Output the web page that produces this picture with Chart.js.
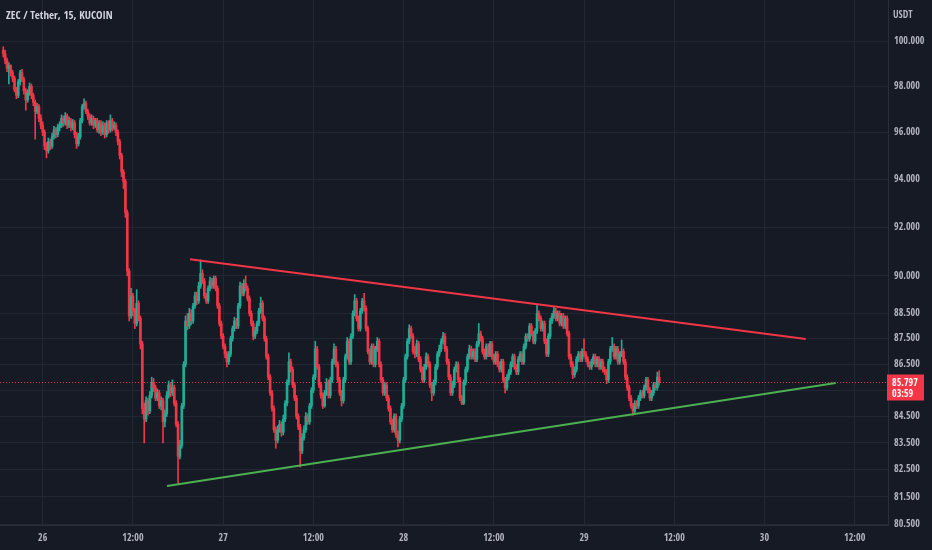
<!DOCTYPE html>
<html>
<head>
<meta charset="utf-8">
<title>ZEC / Tether, 15, KUCOIN</title>
<script src="https://cdn.jsdelivr.net/npm/chart.js@4.4.0/dist/chart.umd.min.js"></script>
<style>
  html, body { margin: 0; padding: 0; background: #161a25; }
  #wrap { position: relative; width: 932px; height: 550px; }
  #title { position: absolute; left: 6px; top: 7px; color: #d1d4dc; font-size: 11px; }
  #unit { position: absolute; left: 893px; top: 7px; color: #b2b5be; font-size: 10px; }
</style>
</head>
<body>
<div id="wrap">
  <canvas id="chart"></canvas>
  <div id="title">ZEC / Tether, 15, KUCOIN</div>
  <div id="unit">USDT</div>
</div>
<script>
// 15 minute candles, hours counted from 26 00:00
const startHour = -5.25;
const firstOpen = 99.60;

const closes = [
  99.45,99.15,98.80,98.90,98.60,98.35,97.85,97.60,98.20,98.60,
  98.30,97.80,97.40,97.70,98.00,97.60,97.30,96.90,97.10,96.60,
  96.30,96.00,95.40,95.20,95.60,95.40,95.80,96.10,95.90,96.20,
  96.30,96.60,96.40,96.70,96.30,96.50,96.20,96.40,95.90,95.50,
  95.80,96.50,97.10,97.25,96.90,96.70,96.40,96.60,96.30,96.50,
  96.10,96.40,96.00,96.30,95.90,96.40,96.10,96.50,96.20,96.30,
  96.00,95.60,95.00,94.30,93.90,92.60,90.20,88.40,89.20,88.60,
  88.10,88.90,88.30,87.30,84.80,84.40,85.10,84.70,85.30,85.80,
  85.60,85.20,85.40,84.90,85.10,84.30,84.60,85.30,85.70,85.40,
  85.60,85.00,84.20,83.00,83.40,84.90,86.50,88.20,88.00,88.50,
  88.20,88.80,89.20,89.00,89.60,90.10,89.80,89.20,89.00,89.50,
  89.80,89.60,89.90,89.50,88.80,88.10,87.60,87.20,86.90,86.60,
  86.90,87.50,87.90,88.20,88.00,88.80,89.60,89.30,89.70,89.50,
  89.10,88.50,88.10,87.60,87.80,88.10,88.60,88.90,88.30,87.50,
  86.80,86.00,85.40,84.80,84.00,83.60,84.00,84.20,83.90,84.40,
  85.00,85.80,86.60,86.30,85.70,85.20,84.50,84.10,83.20,83.70,
  84.00,84.50,84.30,84.90,85.50,86.00,87.10,86.40,85.70,85.30,
  84.90,85.40,85.80,85.30,85.90,86.60,87.10,86.50,85.90,85.40,
  85.10,85.90,86.80,87.40,86.60,87.60,88.50,89.00,88.30,87.90,
  88.60,89.00,88.70,87.90,87.00,86.60,87.20,86.50,87.10,87.40,
  86.50,85.90,85.40,85.70,85.20,84.80,84.30,84.00,84.50,83.80,
  83.60,84.40,84.90,85.90,86.80,87.40,87.90,87.60,87.00,86.90,
  87.30,86.70,86.30,85.90,86.40,86.80,86.50,85.70,85.40,85.80,
  86.40,86.90,87.10,87.40,87.60,87.10,86.60,86.00,85.40,85.70,
  86.30,86.50,85.90,85.20,85.00,85.80,86.30,86.80,87.10,86.80,
  87.00,86.70,87.30,87.70,87.50,87.00,86.80,87.20,86.90,87.30,
  86.80,86.60,86.90,86.50,86.30,86.60,85.90,85.60,86.00,86.20,
  86.50,86.80,86.40,86.20,86.70,86.90,86.60,87.20,87.60,87.50,
  88.00,87.70,87.40,87.80,88.50,88.30,87.90,88.10,87.40,86.90,
  87.60,88.20,88.40,88.60,88.30,88.50,88.10,88.40,88.00,88.30,
  87.70,86.80,86.50,86.10,86.30,86.70,86.90,86.70,87.00,86.90,
  86.70,86.50,86.40,86.60,86.80,86.50,86.70,86.40,86.60,86.30,
  86.20,85.90,86.60,87.10,87.20,86.80,87.10,86.60,86.90,87.00,
  86.60,86.00,85.60,85.20,84.90,84.70,85.00,84.90,85.20,85.40,
  85.30,85.60,85.90,85.50,85.20,85.40,85.70,85.60,86.00,85.797
];

const highs = [
  99.75,99.60,99.25,99.05,98.95,98.70,98.45,97.95,98.30,98.70,
  98.75,98.40,97.90,97.85,98.15,98.10,97.70,97.40,97.25,97.20,
  96.75,96.45,96.10,95.55,95.75,95.70,95.95,96.25,96.20,96.35,
  96.45,96.75,96.70,96.85,96.80,96.65,96.60,96.55,96.50,96.00,
  95.95,96.60,97.20,97.45,97.35,97.00,96.80,96.75,96.70,96.60,
  96.60,96.50,96.50,96.45,96.40,96.50,96.50,96.75,96.60,96.45,
  96.40,96.10,95.70,95.10,94.40,94.00,92.70,90.30,89.50,89.30,
  88.70,89.45,89.00,88.40,87.40,85.00,85.25,85.20,85.45,86.00,
  85.95,85.70,85.55,85.50,85.25,85.20,84.75,85.45,85.85,85.80,
  85.90,85.70,85.10,84.30,83.60,85.00,86.60,88.40,88.50,88.70,
  88.65,88.90,89.35,89.35,89.75,90.65,90.25,89.90,89.30,89.60,
  89.95,89.90,90.00,90.00,89.60,88.90,88.20,87.70,87.30,87.00,
  87.00,87.60,88.00,88.35,88.30,88.90,89.75,89.70,89.85,90.00,
  89.60,89.20,88.60,88.20,87.95,88.20,88.70,89.15,89.00,88.40,
  87.60,86.90,86.10,85.50,84.90,84.10,84.15,84.35,84.30,84.55,
  85.10,85.90,86.95,86.70,86.40,85.80,85.30,84.60,84.20,83.85,
  84.15,84.65,84.60,85.00,85.60,86.10,87.40,87.20,86.50,85.80,
  85.40,85.50,85.95,85.90,86.00,86.70,87.30,87.20,86.60,86.00,
  85.50,86.00,86.90,87.55,87.50,87.70,88.60,89.25,89.10,88.40,
  88.70,89.10,89.30,88.80,88.00,87.10,87.30,87.30,87.20,87.55,
  87.50,86.60,86.00,85.80,85.80,85.30,84.90,84.40,84.60,84.60,
  83.95,84.50,85.00,86.00,86.90,87.50,88.05,88.00,87.70,87.20,
  87.45,87.40,86.80,86.40,86.50,86.95,86.90,86.60,85.80,85.90,
  86.50,87.00,87.25,87.50,87.75,87.70,87.20,86.70,86.10,85.85,
  86.40,86.60,86.60,86.00,85.30,85.90,86.40,86.90,87.25,87.20,
  87.10,87.10,87.40,88.10,87.80,87.60,87.10,87.30,87.30,87.40,
  87.40,86.90,87.00,87.00,86.60,86.70,86.70,86.00,86.10,86.30,
  86.60,86.90,86.90,86.50,86.80,87.00,87.00,87.30,87.70,87.70,
  88.10,88.10,87.80,87.90,88.85,88.60,88.40,88.20,88.20,87.50,
  87.70,88.30,88.50,88.75,88.70,88.60,88.60,88.50,88.50,88.40,
  88.40,87.80,86.90,86.60,86.40,86.80,87.00,87.00,87.10,87.50,
  87.00,86.80,86.60,86.70,86.90,86.90,86.80,86.80,86.70,86.70,
  86.40,86.30,86.70,87.20,87.55,87.30,87.20,87.20,87.00,87.45,
  87.10,86.70,86.10,85.70,85.30,85.00,85.10,85.10,85.30,85.50,
  85.50,85.70,86.00,86.00,85.60,85.50,85.80,85.80,86.20,86.25
];

const lows = [
  99.30,99.00,98.65,98.10,98.45,98.20,97.75,97.45,97.50,98.05,
  98.20,97.65,96.95,97.30,97.60,97.45,97.15,95.70,96.80,96.45,
  96.15,95.85,95.25,94.90,95.10,95.25,95.30,95.70,95.75,95.80,
  96.05,96.20,96.25,96.30,96.15,96.20,96.05,96.10,95.75,95.30,
  95.40,95.70,96.40,97.00,96.80,96.55,96.30,96.30,96.15,96.20,
  96.00,95.95,95.85,95.90,95.75,95.80,95.95,96.00,96.05,96.10,
  95.85,95.45,94.85,94.10,93.60,92.40,90.00,88.20,88.30,88.40,
  87.90,88.00,88.20,87.10,84.60,83.50,84.30,84.55,84.60,85.20,
  85.45,85.10,85.10,84.80,84.75,83.50,84.10,84.50,85.20,85.25,
  85.30,84.90,84.10,82.00,82.90,83.30,84.80,86.40,87.85,87.90,
  88.05,88.10,88.70,88.85,88.90,89.50,89.70,89.10,88.90,88.90,
  89.40,89.50,89.50,89.40,88.70,88.00,87.50,87.10,86.75,86.40,
  86.50,86.80,87.40,87.80,87.90,87.90,88.70,89.20,89.20,89.40,
  89.00,88.40,88.00,87.45,87.50,87.70,88.00,88.50,88.20,87.40,
  86.70,85.90,85.30,84.70,83.90,83.30,83.50,83.90,83.75,83.80,
  84.30,84.90,85.70,86.20,85.60,85.10,84.40,84.00,82.60,83.10,
  83.60,83.90,84.20,84.20,84.80,85.40,85.90,86.30,85.60,85.20,
  84.80,84.85,85.30,85.20,85.20,85.80,86.50,86.40,85.80,85.30,
  84.90,85.00,85.80,86.70,86.50,86.50,87.50,88.40,88.20,87.80,
  87.80,88.50,88.60,87.80,86.90,86.50,86.50,86.40,86.40,87.00,
  86.40,85.80,85.30,85.30,85.10,84.70,84.20,83.90,83.90,83.70,
  83.35,83.50,84.30,84.80,85.80,86.70,87.30,87.50,86.90,86.75,
  86.80,86.60,86.20,85.80,85.80,86.30,86.40,85.60,85.10,85.30,
  85.70,86.30,86.80,87.00,87.30,87.00,86.50,85.90,85.30,85.30,
  85.60,86.20,85.80,85.10,84.95,84.95,85.70,86.20,86.70,86.70,
  86.70,86.60,86.60,87.20,87.40,86.90,86.70,86.70,86.80,86.80,
  86.70,86.50,86.50,86.40,86.20,86.20,85.80,85.40,85.50,85.90,
  86.10,86.40,86.30,86.10,86.10,86.60,86.50,86.50,87.10,87.40,
  87.40,87.60,87.30,87.30,87.70,88.20,87.80,87.80,87.30,86.80,
  86.80,87.50,88.10,88.30,88.20,88.20,88.00,88.00,87.90,87.90,
  87.60,86.70,86.40,85.95,86.00,86.20,86.60,86.60,86.60,86.80,
  86.60,86.40,86.30,86.30,86.50,86.40,86.40,86.30,86.30,86.20,
  86.10,85.75,85.80,86.50,87.00,86.70,86.70,86.50,86.50,86.80,
  86.50,85.90,85.50,85.10,84.80,84.55,84.60,84.80,84.80,85.10,
  85.20,85.20,85.50,85.40,85.10,85.10,85.30,85.50,85.50,85.70
];

// drawn trend lines: [hour, price] end points
const resistanceLine = [[19.59, 90.68], [101.49, 87.49]];
const supportLine = [[16.53, 81.90], [105.48, 85.78]];

// axes
const xTickHours = [0, 12, 24, 36, 48, 60, 72, 84, 96, 108];
const xTickLabels = ['26', '12:00', '27', '12:00', '28', '12:00', '29', '12:00', '30', '12:00'];
const yTicks = [100, 98, 96, 94, 92, 90, 88.5, 87.5, 86.5, 85.5, 84.5, 83.5, 82.5, 81.5, 80.5];
const countdown = '03:59';

const X_MIN = -5.68, X_MAX = 112.43;
const Y_MIN = 80.48, Y_MAX = 101.87;

const UP = '#22ab94';
const DOWN = '#f23645';
const GRID = '#232735';
const AXIS_TEXT = '#b2b5be';

// pick the narrowest installed face, the reference labels are condensed
function pickFont(candidates) {
    const ctx = document.createElement('canvas').getContext('2d');
    let best = candidates[candidates.length - 1];
    let bestWidth = Infinity;
    candidates.forEach(f => {
        ctx.font = '10px ' + f + ', sans-serif';
        const w = ctx.measureText('100.000 ZEC / Tether').width;
        if (w < bestWidth - 0.5) { bestWidth = w; best = f; }
    });
    return best + ', sans-serif';
}
const FONT = pickFont([
    "'Liberation Sans'", "'Liberation Sans Narrow'", "'DejaVu Sans Condensed'",
    "'Roboto Condensed'", "'Open Sans Condensed'", "Roboto", "'Noto Sans'", "Lato", "Inter"
]);
document.getElementById('title').style.fontFamily = FONT;
document.getElementById('unit').style.fontFamily = FONT;

const opens = closes.map((c, i) => i === 0 ? firstOpen : closes[i - 1]);
const hours = closes.map((c, i) => startHour + i * 0.25);
const lastPrice = closes[closes.length - 1];

const candleColor = ctx => closes[ctx.dataIndex] >= opens[ctx.dataIndex] ? UP : DOWN;

const priceTag = {
    id: 'priceTag',
    afterDraw(chart) {
        const ctx = chart.ctx;
        const y = chart.scales.y;
        const py = y.getPixelForValue(lastPrice);
        ctx.save();
        ctx.fillStyle = DOWN;
        ctx.fillRect(y.left - 1, py - 8, 37, 26);
        ctx.fillStyle = '#ffffff';
        ctx.font = '10px ' + FONT;
        ctx.textBaseline = 'middle';
        ctx.textAlign = 'left';
        ctx.fillText(lastPrice.toFixed(3), y.left + 4, py + 0.5);
        ctx.fillText(countdown, y.left + 4, py + 12);
        ctx.restore();
    }
};

new Chart(document.getElementById('chart'), {
    type: 'bar',
    data: {
        datasets: [
            {
                type: 'line',
                data: resistanceLine.map(p => ({x: p[0], y: p[1]})),
                borderColor: '#f23645',
                borderWidth: 2,
                pointRadius: 0,
                order: 0
            },
            {
                type: 'line',
                data: supportLine.map(p => ({x: p[0], y: p[1]})),
                borderColor: '#4caf50',
                borderWidth: 2,
                pointRadius: 0,
                order: 0
            },
            {
                data: hours.map((h, i) => ({x: h, y: [opens[i], closes[i]]})),
                backgroundColor: candleColor,
                barThickness: 2,
                minBarLength: 1,
                grouped: false,
                order: 1
            },
            {
                data: hours.map((h, i) => ({x: h, y: [lows[i], highs[i]]})),
                backgroundColor: candleColor,
                barThickness: 1,
                grouped: false,
                order: 2
            },
            {
                type: 'line',
                data: [{x: X_MIN, y: lastPrice}, {x: X_MAX, y: lastPrice}],
                borderColor: DOWN,
                borderWidth: 1,
                borderDash: [1, 2],
                pointRadius: 0,
                order: 3
            }
        ]
    },
    options: {
        responsive: true,
        maintainAspectRatio: false,
        animation: false,
        events: [],
        layout: { padding: 0 },
        plugins: {
            legend: { display: false },
            tooltip: { enabled: false }
        },
        scales: {
            x: {
                type: 'linear',
                min: X_MIN,
                max: X_MAX,
                offset: false,
                afterBuildTicks: s => { s.ticks = xTickHours.map(v => ({value: v})); },
                afterFit: s => { s.height = 25; s.paddingLeft = 0; s.paddingRight = 0; },
                ticks: {
                    color: AXIS_TEXT,
                    font: { family: FONT, size: 10 },
                    padding: 7,
                    maxRotation: 0,
                    autoSkip: false,
                    callback: v => xTickLabels[xTickHours.indexOf(v)]
                },
                grid: { color: GRID, drawTicks: false, offset: false },
                border: { color: '#2a2e39' }
            },
            y: {
                type: 'logarithmic',
                position: 'right',
                min: Y_MIN,
                max: Y_MAX,
                beginAtZero: false,
                afterBuildTicks: s => { s.ticks = yTicks.map(v => ({value: v})); },
                afterFit: s => { s.width = 44; s.paddingTop = 0; s.paddingBottom = 0; },
                ticks: {
                    color: AXIS_TEXT,
                    font: { family: FONT, size: 10 },
                    padding: 6,
                    autoSkip: false,
                    callback: v => Number(v).toFixed(3)
                },
                grid: { color: GRID, drawTicks: false },
                border: { color: '#2a2e39' }
            }
        }
    },
    plugins: [priceTag]
});
</script>
</body>
</html>
